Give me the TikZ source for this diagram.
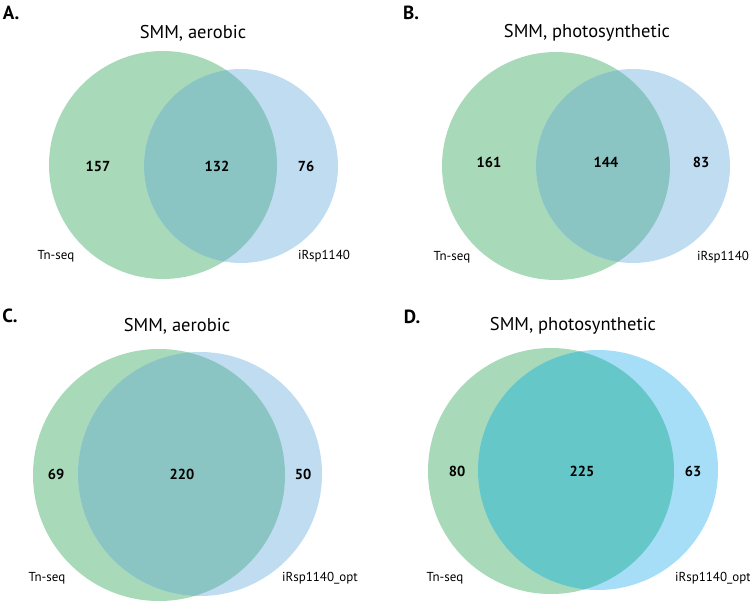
\documentclass[tikz,border=0pt]{standalone}
\usepackage{fontspec}
\setmainfont{PT Sans}
\usepackage{tikz}
\definecolor{tngreen}{HTML}{A8D9B8}
\definecolor{rspblue}{HTML}{BFDCF1}
\definecolor{bothteal}{HTML}{8AC5C3}
\definecolor{rspblueD}{HTML}{A6DDF7}
\definecolor{bothtealD}{HTML}{66C7C9}
\tikzset{
  panel/.style={font=\bfseries\fontsize{19}{19}\selectfont},
  ttl/.style={font=\fontsize{18.5}{18.5}\selectfont},
  count/.style={font=\bfseries\fontsize{14.5}{14.5}\selectfont},
  setlbl/.style={font=\fontsize{13}{13}\selectfont},
}

\begin{document}
\begin{tikzpicture}[x=1pt, y=-1pt]
  \useasboundingbox (0,0) rectangle (750,602);
  % A: aerobic
  \coordinate (gA) at (163,165);
  \coordinate (bA) at (241,166);
  \fill[tngreen] (gA) circle[radius=114];
  \fill[rspblue] (bA) circle[radius=97];
  \begin{scope}
    \clip (gA) circle[radius=114];
    \fill[bothteal] (bA) circle[radius=97];
  \end{scope}
  \node[panel] (pA) at (11,13) {A.};
  \node[ttl] (tA) at (193,33) {SMM, aerobic};
  \node[count] (onlyTnA) at (98,166) {157};
  \node[count] (bothA) at (217,166) {132};
  \node[count] (onlyRspA) at (306,166) {76};
  \node[setlbl] (tnA) at (56,256) {Tn-seq};
  \node[setlbl] (rspA) at (324,256) {iRsp1140};
  % B: photosynthetic
  \coordinate (gB) at (556,166);
  \coordinate (bB) at (633,166);
  \fill[tngreen] (gB) circle[radius=114];
  \fill[rspblue] (bB) circle[radius=97];
  \begin{scope}
    \clip (gB) circle[radius=114];
    \fill[bothteal] (bB) circle[radius=97];
  \end{scope}
  \node[panel] (pB) at (411,13) {B.};
  \node[ttl] (tB) at (587,33) {SMM, photosynthetic};
  \node[count] (onlyTnB) at (489,162) {161};
  \node[count] (bothB) at (606,162) {144};
  \node[count] (onlyRspB) at (701,162) {83};
  \node[setlbl] (tnB) at (452,257) {Tn-seq};
  \node[setlbl] (rspB) at (723,257) {iRsp1140};
  % C: aerobic, optimised model
  \coordinate (gC) at (159,475);
  \coordinate (bC) at (200,474);
  \fill[tngreen] (gC) circle[radius=126];
  \fill[rspblue] (bC) circle[radius=122];
  \begin{scope}
    \clip (gC) circle[radius=126];
    \fill[bothteal] (bC) circle[radius=122];
  \end{scope}
  \node[panel] (pC) at (10,316) {C.};
  \node[ttl] (tC) at (177,326) {SMM, aerobic};
  \node[count] (onlyTnC) at (56,474) {69};
  \node[count] (bothC) at (182,474) {220};
  \node[count] (onlyRspC) at (303,474) {50};
  \node[setlbl] (tnC) at (47,578) {Tn-seq};
  \node[setlbl] (rspC) at (320,578) {iRsp1140\_opt};
  % D: photosynthetic, optimised model
  \coordinate (gD) at (551,471);
  \coordinate (bD) at (598,470);
  \fill[tngreen] (gD) circle[radius=123];
  \fill[rspblueD] (bD) circle[radius=120];
  \begin{scope}
    \clip (gD) circle[radius=123];
    \fill[bothtealD] (bD) circle[radius=120];
  \end{scope}
  \node[panel] (pD) at (412,317) {D.};
  \node[ttl] (tD) at (573,326) {SMM, photosynthetic};
  \node[count] (onlyTnD) at (457,471) {80};
  \node[count] (bothD) at (582,471) {225};
  \node[count] (onlyRspD) at (693,471) {63};
  \node[setlbl] (tnD) at (445,578) {Tn-seq};
  \node[setlbl] (rspD) at (713,578) {iRsp1140\_opt};
\end{tikzpicture}
\end{document}
